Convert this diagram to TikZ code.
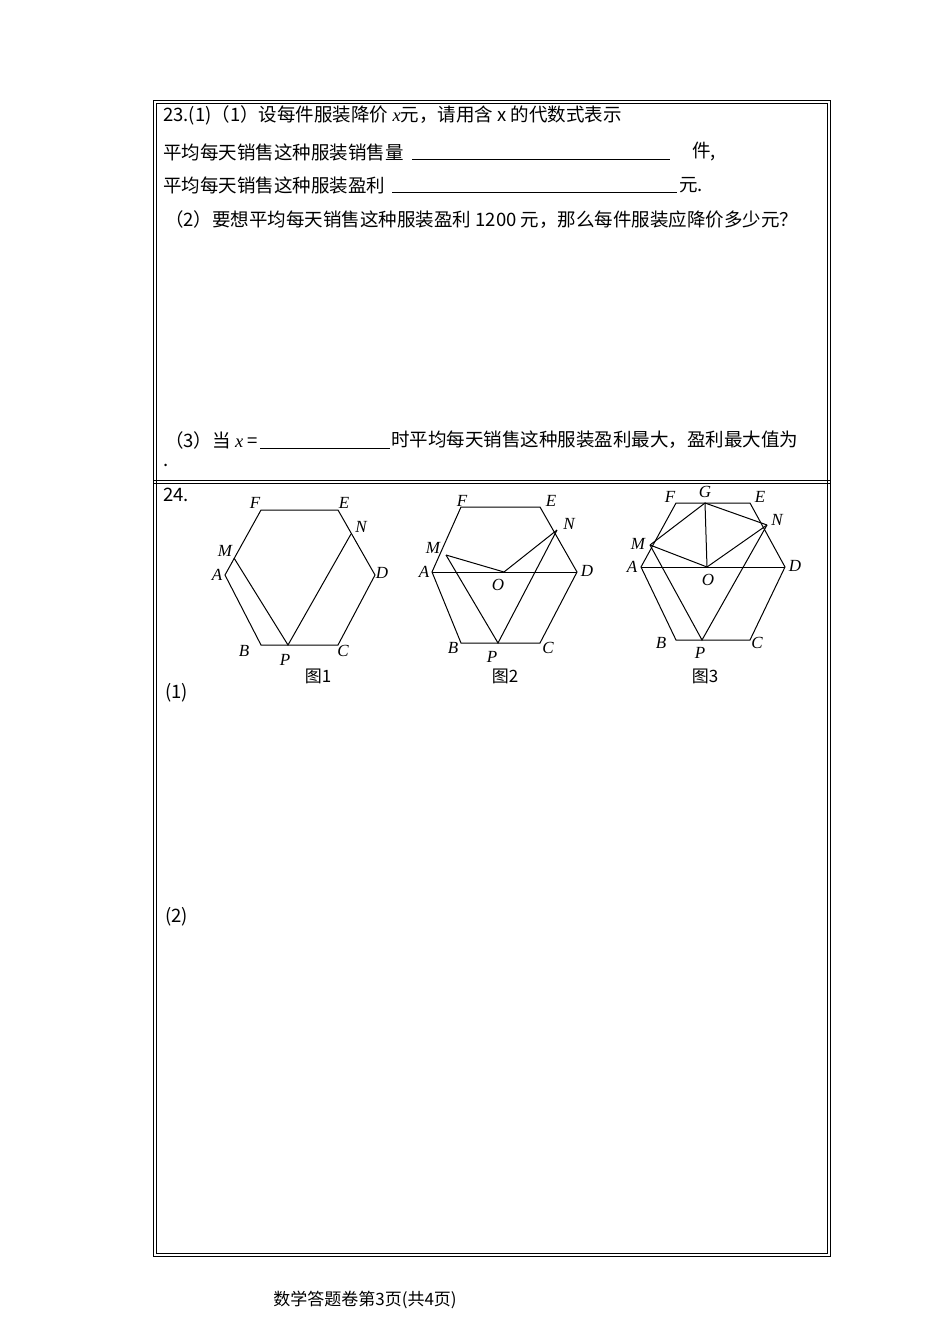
\documentclass[tikz,border=0pt]{standalone}
\usepackage{fontspec}
\setmainfont{Liberation Serif}
\newfontfamily\cjk{Noto Sans CJK SC}
\begin{document}
\begin{tikzpicture}[x=1pt,y=-1pt,
  txt/.style={anchor=west,inner sep=0pt,font=\fontsize{18.5}{20}\selectfont\cjk},
  lab/.style={inner sep=0pt,font=\fontsize{17}{19}\selectfont\itshape},
  figcap/.style={inner sep=0pt,font=\fontsize{17}{19}\selectfont\cjk},
  edge/.style={line width=1pt}]
\useasboundingbox (0,0) rectangle (950,1344);
% frames
\draw[line width=0.8pt] (153,100) rectangle (830,1256);
\draw[line width=0.8pt] (156,103) rectangle (827,1253);
\draw[line width=0.8pt] (153,480) -- (830,480);
\draw[line width=0.8pt] (153,483) -- (830,483);
% texts 23
\node[txt] (t1) at (163,115) {23.(1)（1）设每件服装降价 {\rmfamily\itshape x}元，请用含 x 的代数式表示};
\node[txt] (t2) at (163,152) {平均每天销售这种服装销售量};
\draw[line width=0.5pt] (412,159) -- (670,159);
\node[txt] (t2b) at (692,152) {件,};
\node[txt] (t3) at (163,185) {平均每天销售这种服装盈利};
\draw[line width=0.5pt] (392,192) -- (677,192);
\node[txt] (t3b) at (679,185) {元.};
\node[txt] (t4) at (165,220) {（2）要想平均每天销售这种服装盈利 1200 元，那么每件服装应降价多少元？};
\node[txt] (t5) at (165,440) {（3）当 {\rmfamily\itshape x} =};
\draw[line width=0.8pt] (260,448) -- (390,448);
\node[txt] (t5b) at (391,440) {时平均每天销售这种服装盈利最大，盈利最大值为};
\node[txt] (t6) at (163,465) {.};
\node[txt] (t7) at (163,495) {24.};
\node[txt] (t8) at (165,693) {(1)};
\node[txt] (t9) at (165,917) {(2)};
\node[figcap] (foot) at (365,1300) {数学答题卷第3页(共4页)};
% fig1
\coordinate (A1) at (225,575); \coordinate (B1) at (261,645); \coordinate (C1) at (338,645);
\coordinate (D1) at (375,575); \coordinate (E1) at (338,510); \coordinate (F1) at (261,510);
\coordinate (M1) at (234,558); \coordinate (N1) at (351,534); \coordinate (P1) at (288,645);
\draw[edge] (A1)--(B1)--(C1)--(D1)--(E1)--(F1)--cycle;
\draw[edge] (M1)--(P1)--(N1);
\node[lab] at (217,575) {A}; \node[lab] at (244,651) {B}; \node[lab] at (343,651) {C};
\node[lab] at (382,573) {D}; \node[lab] at (344,503) {E}; \node[lab] at (255,503) {F};
\node[lab] at (225,551) {M}; \node[lab] at (361,527) {N}; \node[lab] at (285,660) {P};
\node[figcap] at (318,676) {图1};
% fig2
\coordinate (A2) at (432,572); \coordinate (B2) at (461,643); \coordinate (C2) at (540,643);
\coordinate (D2) at (577,572); \coordinate (E2) at (540,507); \coordinate (F2) at (461,507);
\coordinate (M2) at (446,555); \coordinate (N2) at (557,530); \coordinate (O2) at (504,572); \coordinate (P2) at (498,643);
\draw[edge] (A2)--(B2)--(C2)--(D2)--(E2)--(F2)--cycle;
\draw[edge] (A2)--(D2);
\draw[edge] (M2)--(O2)--(N2);
\draw[edge] (M2)--(P2)--(N2);
\node[lab] at (424,572) {A}; \node[lab] at (453,648) {B}; \node[lab] at (548,648) {C};
\node[lab] at (587,571) {D}; \node[lab] at (551,501) {E}; \node[lab] at (462,501) {F};
\node[lab] at (433,548) {M}; \node[lab] at (569,524) {N}; \node[lab] at (498,585) {O}; \node[lab] at (492,657) {P};
\node[figcap] at (505,676) {图2};
% fig3
\coordinate (A3) at (641,567); \coordinate (B3) at (676,640); \coordinate (C3) at (750,640);
\coordinate (D3) at (785,567); \coordinate (E3) at (750,503); \coordinate (F3) at (676,503);
\coordinate (G3) at (705,503);
\coordinate (M3) at (650,545); \coordinate (N3) at (767,525); \coordinate (O3) at (707,567); \coordinate (P3) at (702,640);
\draw[edge] (A3)--(B3)--(C3)--(D3)--(E3)--(F3)--cycle;
\draw[edge] (A3)--(D3);
\draw[edge] (M3)--(G3)--(N3);
\draw[edge] (G3)--(O3);
\draw[edge] (M3)--(O3)--(N3);
\draw[edge] (M3)--(P3)--(N3);
\node[lab] at (632,567) {A}; \node[lab] at (661,643) {B}; \node[lab] at (757,643) {C};
\node[lab] at (795,566) {D}; \node[lab] at (760,497) {E}; \node[lab] at (670,497) {F};
\node[lab] at (705,492) {G};
\node[lab] at (638,544) {M}; \node[lab] at (777,520) {N}; \node[lab] at (708,580) {O}; \node[lab] at (700,653) {P};
\node[figcap] at (705,676) {图3};
\end{tikzpicture}
\end{document}
